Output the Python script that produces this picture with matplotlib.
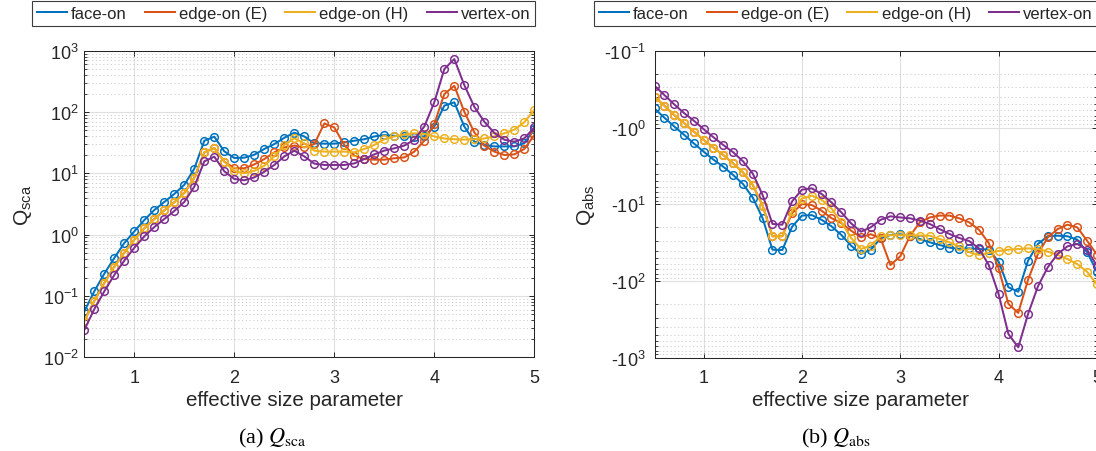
import numpy as np
import matplotlib
matplotlib.use('Agg')
import matplotlib.pyplot as plt
from matplotlib.ticker import LogLocator, FuncFormatter, NullFormatter, FixedLocator
from matplotlib.lines import Line2D

plt.rcParams['font.family'] = ['Liberation Sans', 'DejaVu Sans']
plt.rcParams['mathtext.default'] = 'regular'

# ---------------- data ----------------
x = [0.5, 0.6, 0.7, 0.8, 0.9, 1.0, 1.1, 1.2, 1.3, 1.4, 1.5, 1.6, 1.7, 1.8, 1.9, 2.0,
     2.1, 2.2, 2.3, 2.4, 2.5, 2.6, 2.7, 2.8, 2.9, 3.0, 3.1, 3.2, 3.3, 3.4, 3.5,
     3.6, 3.7, 3.8, 3.9, 4.0, 4.1, 4.2, 4.3, 4.4, 4.5, 4.6, 4.7, 4.8, 4.9, 5.0]

labels = ['face-on', 'edge-on (E)', 'edge-on (H)', 'vertex-on']
colors = ['#0072BD', '#D95319', '#EDB120', '#7E2F8E']

# Q_sca (scattering efficiency)
face_sca = [0.056, 0.119, 0.231, 0.417, 0.731, 1.13, 1.73, 2.52, 3.41, 4.61, 6.5, 11.9, 34, 39.6, 22.8, 17.8,
            18, 20.1, 25, 30, 38, 46, 40, 30.8, 30.5, 30.5, 32, 34, 36, 40, 42,
            41, 40, 39.6, 40, 58, 127, 144, 58, 33, 29, 27.5, 27.5, 27.5, 31, 53]
edgeE_sca = [0.039, 0.083, 0.163, 0.301, 0.509, 0.83, 1.27, 1.80, 2.49, 3.37, 4.78, 8.5, 22, 25.9, 15.5, 12.1,
             12.1, 14, 17.1, 22, 26.5, 28.3, 26.5, 30, 65, 56, 29, 19.4, 17.1, 16.7, 16.7,
             17.6, 18.2, 22.6, 34, 64, 196, 268, 101, 46.6, 28.3, 22.6, 19.9, 20.4, 25, 42]
edgeH_sca = [0.039, 0.083, 0.163, 0.301, 0.509, 0.83, 1.27, 1.80, 2.49, 3.37, 4.78, 8.5, 22, 25.9, 15.5, 10.9,
             10, 11, 13.3, 18.9, 29, 37.2, 30.8, 23.4, 22.6, 22.6, 22.6, 22, 25, 29, 36,
             40, 43, 45, 44, 40, 37, 36, 35.5, 36, 37, 40, 45, 51.5, 68, 109]
vertex_sca = [0.028, 0.061, 0.119, 0.22, 0.377, 0.61, 0.94, 1.33, 1.80, 2.43, 3.41, 6.06, 15.7, 18.7, 10.8, 8.1,
              7.7, 8.6, 10.6, 13.7, 18.9, 23.4, 18.9, 14.4, 13.7, 13.7, 13.7, 14.5, 17.1, 20.4, 23.5,
              25.6, 28.3, 35.4, 58, 144, 502, 731, 275, 122, 69.5, 45.5, 35.4, 32.8, 37.2, 56]

# Q_abs (absorption efficiency, negative values)
face_abs = [-0.564, -0.745, -0.966, -1.24, -1.61, -2.06, -2.62, -3.24, -4.15, -5.43, -8.18, -15.2, -38.9, -39.3, -19.5, -14.0,
            -13.8, -15.9, -19.3, -25, -34.5, -44.3, -38.9, -27.7, -25, -24.5, -25.6, -28.3, -31.2, -33.8, -36.6,
            -38, -37.4, -38.1, -38.9, -55.7, -120, -137, -54, -32.8, -26, -25.6, -26, -28.8, -42, -75]
edgeE_abs = [-0.397, -0.52, -0.687, -0.873, -1.13, -1.45, -1.83, -2.28, -2.93, -3.83, -5.6, -10.4, -26, -26, -13, -9.9,
             -10.2, -12.1, -15.1, -17.5, -22, -26.9, -24.5, -27.7, -61.7, -47.5, -25.6, -17.1, -14.8, -14.0, -14.0,
             -15.2, -17.1, -21.4, -31.9, -68, -198, -259, -95.5, -44.3, -26.9, -21, -18.4, -19.9, -29.7, -45]
edgeH_abs = [-0.397, -0.52, -0.687, -0.873, -1.13, -1.45, -1.83, -2.28, -2.93, -3.83, -5.6, -10.4, -26, -26, -12.1, -8.4,
             -7.7, -8.7, -11.3, -17.1, -27.4, -38.1, -34.5, -26, -25.2, -25.2, -25.2, -25.5, -25.6, -28.3, -31.2,
             -35.2, -42, -45.6, -43, -40.5, -38.9, -38.1, -37.4, -38.1, -41.3, -45.6, -51.5, -59.8, -75.2, -110]
vertex_abs = [-0.286, -0.377, -0.499, -0.647, -0.815, -1.05, -1.34, -1.69, -2.10, -2.75, -3.99, -7.57, -18.0, -18.4, -9.14, -6.44,
              -6.19, -7.33, -9.42, -12.7, -17.7, -22.7, -19.9, -15.9, -14.3, -14.8, -15.2, -16.3, -18, -21, -24.3,
              -27.4, -30, -37.4, -61.7, -147, -488, -726, -267, -117, -66, -44.3, -35.2, -32.8, -38.9, -63]

sca_series = [face_sca, edgeE_sca, edgeH_sca, vertex_sca]
abs_series = [face_abs, edgeE_abs, edgeH_abs, vertex_abs]

# ---------------- figure ----------------
W, H = 1096, 452
fig = plt.figure(figsize=(W / 100, H / 100), dpi=100)


def rect(l, t, r, b):
    return [l / W, 1 - b / H, (r - l) / W, (b - t) / H]


ax1 = fig.add_axes(rect(84.3, 51.7, 534.3, 358.3))
ax2 = fig.add_axes(rect(654.5, 51.7, 1096.9, 359.0))

dark = '#262626'


def style(ax, ypad):
    ax.set_xlim(0.5, 5)
    ax.set_yscale('log')
    ax.xaxis.set_major_locator(FixedLocator([1, 2, 3, 4, 5]))
    ax.yaxis.set_major_locator(LogLocator(base=10, numticks=20))
    ax.yaxis.set_minor_locator(LogLocator(base=10, subs=np.arange(2, 10), numticks=20))
    ax.yaxis.set_minor_formatter(NullFormatter())
    ax.grid(True, which='major', color='#dfdfdf', lw=0.8, ls='-')
    ax.grid(True, which='minor', axis='y', color='#c8c8c8', lw=0.6, ls=(0, (1.5, 3)))
    ax.set_axisbelow(True)
    ax.tick_params(which='both', direction='in', top=True, right=True,
                   colors=dark, labelsize=13)
    ax.tick_params(which='major', length=3.3, width=0.7)
    ax.tick_params(which='minor', length=2.0, width=0.6)
    ax.tick_params(axis='x', which='major', pad=8.2)
    ax.tick_params(axis='y', which='major', pad=ypad)
    for s in ax.spines.values():
        s.set_color(dark)
        s.set_linewidth(0.75)


style(ax1, 4)
style(ax2, 6.5)

for vals, c in zip(sca_series, colors):
    ax1.plot(x, vals, color=c, lw=1.45, marker='o', ms=5.5, mfc='none', mew=1.1)
ax1.set_ylim(1e-2, 1e3)
ax1.yaxis.set_major_formatter(FuncFormatter(
    lambda v, p: r'$\mathdefault{10^{%d}}$' % int(round(np.log10(v)))))

for vals, c in zip(abs_series, colors):
    ax2.plot(x, [-v for v in vals], color=c, lw=1.45, marker='o', ms=5.5, mfc='none', mew=1.1)
ax2.set_ylim(1e3, 1e-1)
ax2.yaxis.set_major_formatter(FuncFormatter(
    lambda v, p: r'-$\mathdefault{10^{%d}}$' % int(round(np.log10(v)))))

# axis labels (placed as in reference)
fig.text(294 / W, 1 - 406 / H, 'effective size parameter', ha='center', va='baseline',
         fontsize=14.8, color=dark)
fig.text(860 / W, 1 - 406 / H, 'effective size parameter', ha='center', va='baseline',
         fontsize=14.8, color=dark)
fig.text(23 / W, 1 - 205 / H, r'$\mathdefault{Q_{sca}}$', rotation=90, ha='center', va='center',
         fontsize=15, color=dark)
fig.text(586 / W, 1 - 205 / H, r'$\mathdefault{Q_{abs}}$', rotation=90, ha='center', va='center',
         fontsize=15, color=dark)

# captions
fig.text(272 / W, 1 - 443 / H, r'(a) $\mathit{Q}_{\mathrm{sca}}$', ha='center', va='baseline',
         fontsize=16, family='Liberation Serif', math_fontfamily='stix', color='black')
fig.text(835.5 / W, 1 - 443 / H, r'(b) $\mathit{Q}_{\mathrm{abs}}$', ha='center', va='baseline',
         fontsize=16, family='Liberation Serif', math_fontfamily='stix', color='black')

# legends
handles = [Line2D([], [], color=c, lw=1.45) for c in colors]
for x0, x1 in [(31.8, 535.3), (594.0, 1097.5)]:
    leg = fig.legend(handles, labels, ncol=4, loc='upper left',
                     bbox_to_anchor=(x0 / W, 1 - 2 / H, (x1 - x0) / W, 0),
                     mode='expand', borderaxespad=0, fontsize=12,
                     handlelength=1.8, handletextpad=0.25, borderpad=0.3,
                     fancybox=False, framealpha=1, edgecolor='#3c3c3c')
    leg.get_frame().set_linewidth(0.8)
    for t in leg.get_texts():
        t.set_color(dark)

fig.savefig('out.png', dpi=100)
